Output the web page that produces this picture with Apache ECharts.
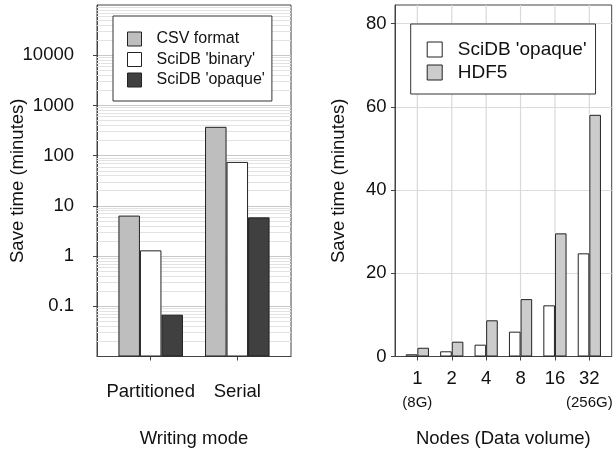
<!DOCTYPE html>
<html>
<head>
<meta charset="utf-8">
<script src="https://cdn.jsdelivr.net/npm/echarts@6/dist/echarts.min.js"></script>
<style>html,body{margin:0;padding:0;background:#fff;}#chart{width:613px;height:450px;}</style>
</head>
<body>
<div id="chart"></div>
<script>
// ---- Left panel data (log scale) ----
const writingModes = ['Partitioned', 'Serial'];
const csvFormat = [6.4, 375];
const scidbBinary = [1.3, 75];
const scidbOpaqueLeft = [0.068, 5.9];
const leftTickValues = [0.1, 1, 10, 100, 1000, 10000];

// ---- Right panel data (linear scale) ----
const nodeLabels = ['1', '2', '4', '8', '16', '32'];
const volumeLabels = ['(8G)', '', '', '', '', '(256G)'];
const scidbOpaqueRight = [0.53, 1.25, 2.84, 5.97, 12.3, 24.8];
const hdf5 = [2.1, 3.56, 8.7, 13.8, 29.6, 58.1];
const rightTickValues = [0, 20, 40, 60, 80];
const rightMax = 84.5;

// minor log grid lines (2..9 x 10^k), decoration only
const minorLogLines = [];
for (let k = -2; k <= 4; k++) {
  for (let m = 2; m <= 9; m++) minorLogLines.push({ yAxis: +(m * Math.pow(10, k)).toPrecision(3) });
}

const FONT = 'Liberation Sans';
const TXT = '#111';
const FRAME = '#444';

const chart = echarts.init(document.getElementById('chart'), null, { renderer: 'canvas' });

const fmtNum = v => String(+(+v).toPrecision(6));

const option = {
  animation: false,
  backgroundColor: '#fff',
  textStyle: { fontFamily: FONT, color: TXT },
  grid: [
    { left: 97, top: 5, width: 194, height: 351.5, show: true, borderColor: FRAME, borderWidth: 1, backgroundColor: 'transparent', containLabel: false, outerBoundsMode: 'none' },
    { left: 395, top: 5, width: 216.7, height: 351.5, show: true, borderColor: FRAME, borderWidth: 1, backgroundColor: 'transparent', containLabel: false, outerBoundsMode: 'none' }
  ],
  xAxis: [
    {
      type: 'value', gridIndex: 0, min: 0.38, max: 2.62,
      name: 'Writing mode', nameLocation: 'middle', nameGap: 72.5, nameMoveOverlap: false,
      nameTextStyle: { fontSize: 18.5, color: TXT, fontFamily: FONT },
      axisLine: { show: true, onZero: false, lineStyle: { color: FRAME } },
      axisTick: { show: true, length: 4, lineStyle: { color: FRAME }, customValues: [1, 2] },
      axisLabel: { customValues: [1, 2], margin: 25.5, fontSize: 18.5, color: TXT, fontFamily: FONT,
        formatter: v => writingModes[Math.round(v) - 1] },
      splitLine: { show: false }
    },
    {
      type: 'value', gridIndex: 1, min: -0.65, max: 5.65,
      name: 'Nodes (Data volume)', nameLocation: 'middle', nameGap: 72.5, nameMoveOverlap: false,
      nameTextStyle: { fontSize: 18.5, color: TXT, fontFamily: FONT },
      axisLine: { show: true, onZero: false, lineStyle: { color: FRAME } },
      axisTick: { show: true, length: 4, lineStyle: { color: FRAME }, customValues: [0, 1, 2, 3, 4, 5] },
      axisLabel: { customValues: [0, 1, 2, 3, 4, 5], margin: 10, color: TXT, fontFamily: FONT,
        showMinLabel: true, showMaxLabel: true, hideOverlap: false,
        rich: { a: { fontSize: 18.5, lineHeight: 24, fontFamily: FONT, color: TXT },
                b: { fontSize: 15, lineHeight: 24, fontFamily: FONT, color: TXT } },
        formatter: v => { const i = Math.round(v); return volumeLabels[i] ? '{a|' + nodeLabels[i] + '}\n{b|' + volumeLabels[i] + '}' : '{a|' + nodeLabels[i] + '}'; } },
      splitLine: { show: false }
    }
  ],
  yAxis: [
    {
      type: 'log', gridIndex: 0, logBase: 10, min: 0.01, max: 100000, splitNumber: 7, startValue: 0.01,
      name: 'Save time (minutes)', nameLocation: 'middle', nameGap: 70, nameMoveOverlap: false,
      nameTextStyle: { fontSize: 18.5, color: TXT, fontFamily: FONT },
      axisLine: { show: true, onZero: false, lineStyle: { color: FRAME } },
      axisTick: { show: true, length: 4, lineStyle: { color: FRAME }, customValues: leftTickValues },
      axisLabel: { customValues: leftTickValues, margin: 23, fontSize: 18.5, color: TXT, fontFamily: FONT, formatter: fmtNum },
      splitLine: { show: true, lineStyle: { color: '#c8c8c8', width: 1 } }
    },
    {
      type: 'value', gridIndex: 1, min: 0, max: rightMax, interval: 10,
      name: 'Save time (minutes)', nameLocation: 'middle', nameGap: 47, nameMoveOverlap: false,
      nameTextStyle: { fontSize: 18.5, color: TXT, fontFamily: FONT },
      axisLine: { show: true, onZero: false, lineStyle: { color: FRAME } },
      axisTick: { show: true, length: 4, lineStyle: { color: FRAME }, customValues: rightTickValues },
      axisLabel: { customValues: rightTickValues, margin: 8.5, fontSize: 18.5, color: TXT, fontFamily: FONT },
      splitLine: { show: true, lineStyle: { color: '#dcdcdc', width: 1 } }
    }
  ],
  legend: [
    {
      orient: 'vertical', left: 113, top: 16, padding: [15, 7, 13, 14], z: 10,
      itemWidth: 14, itemHeight: 14, itemGap: 4.5, icon: 'rect',
      borderColor: '#333', borderWidth: 1, backgroundColor: '#fff',
      textStyle: { fontSize: 16, lineHeight: 16, color: TXT, fontFamily: FONT, padding: [0, 0, 0, 10] },
      data: [
        { name: 'CSV format', itemStyle: { color: '#bebebe', borderColor: '#222', borderWidth: 1 } },
        { name: "SciDB 'binary'", itemStyle: { color: '#ffffff', borderColor: '#222', borderWidth: 1 } },
        { name: "SciDB 'opaque'", itemStyle: { color: '#404040', borderColor: '#222', borderWidth: 1 } }
      ]
    },
    {
      orient: 'vertical', left: 410.7, top: 24, padding: [16, 9, 12, 16], z: 10,
      itemWidth: 15, itemHeight: 15, itemGap: 4, icon: 'rect',
      borderColor: '#333', borderWidth: 1, backgroundColor: '#fff',
      textStyle: { fontSize: 19, lineHeight: 18, color: TXT, fontFamily: FONT, padding: [0, 0, 0, 10.6] },
      data: [
        { name: "SciDB 'opaque'", itemStyle: { color: '#ffffff', borderColor: '#222', borderWidth: 1 } },
        { name: 'HDF5', itemStyle: { color: '#cccccc', borderColor: '#222', borderWidth: 1 } }
      ]
    }
  ],
  series: [
    {
      type: 'line', name: 'minor-grid', xAxisIndex: 0, yAxisIndex: 0, data: [], z: 1, silent: true,
      markLine: { silent: true, z: 1, symbol: 'none', label: { show: false }, emphasis: { disabled: true },
        lineStyle: { color: '#e2e2e2', width: 1, type: 'solid' }, data: minorLogLines }
    },
    {
      type: 'bar', name: 'CSV format', xAxisIndex: 0, yAxisIndex: 0, z: 3,
      barGap: '0%', barCategoryGap: '25.5%',
      itemStyle: { color: '#bebebe', borderColor: '#222', borderWidth: 1 },
      data: writingModes.map((m, i) => [i + 1, csvFormat[i]])
    },
    {
      type: 'bar', name: "SciDB 'binary'", xAxisIndex: 0, yAxisIndex: 0, z: 3,
      barGap: '0%', barCategoryGap: '25.5%',
      itemStyle: { color: '#ffffff', borderColor: '#222', borderWidth: 1 },
      data: writingModes.map((m, i) => [i + 1, scidbBinary[i]])
    },
    {
      type: 'bar', name: "SciDB 'opaque'", xAxisIndex: 0, yAxisIndex: 0, z: 3,
      barGap: '0%', barCategoryGap: '25.5%',
      itemStyle: { color: '#404040', borderColor: '#222', borderWidth: 1 },
      data: writingModes.map((m, i) => [i + 1, scidbOpaqueLeft[i]])
    },
    {
      type: 'bar', name: "SciDB 'opaque'", xAxisIndex: 1, yAxisIndex: 1, z: 3,
      barGap: '0%', barCategoryGap: '32.5%',
      itemStyle: { color: '#ffffff', borderColor: '#222', borderWidth: 1 },
      data: nodeLabels.map((n, i) => [i, scidbOpaqueRight[i]])
    },
    {
      type: 'bar', name: 'HDF5', xAxisIndex: 1, yAxisIndex: 1, z: 3,
      barGap: '0%', barCategoryGap: '32.5%',
      itemStyle: { color: '#cccccc', borderColor: '#222', borderWidth: 1 },
      data: nodeLabels.map((n, i) => [i, hdf5[i]])
    },
    {
      // vertical category grid lines, drawn above the bar tops only
      type: 'custom', name: 'node-grid', xAxisIndex: 1, yAxisIndex: 1, z: 4, silent: true,
      data: nodeLabels.map((n, i) => [i, Math.max(scidbOpaqueRight[i], hdf5[i])]),
      renderItem: (params, api) => {
        const p0 = api.coord([api.value(0), api.value(1)]);
        const p1 = api.coord([api.value(0), rightMax]);
        return { type: 'line', shape: { x1: p0[0], y1: p0[1] - 0.5, x2: p1[0], y2: p1[1] },
                 style: { stroke: '#d9d9d9', lineWidth: 1.2 } };
      }
    }
  ]
};
chart.setOption(option);
</script>
</body>
</html>
